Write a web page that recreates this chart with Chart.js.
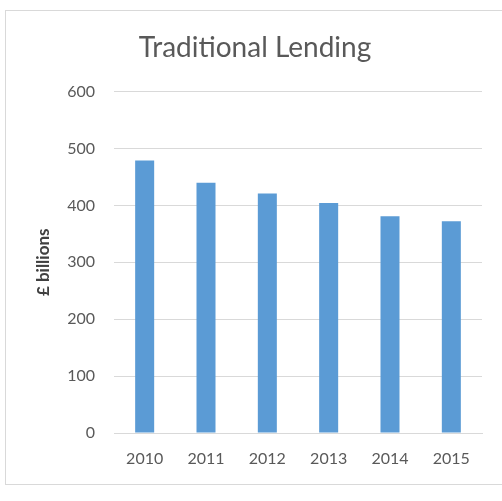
<!DOCTYPE html>
<html>
<head>
<meta charset="utf-8">
<script src="https://cdn.jsdelivr.net/npm/chart.js@4"></script>
<style>
  html, body { margin: 0; padding: 0; background: #fff; }
  #wrap { position: relative; width: 502px; height: 501px; overflow: hidden; }
  #frame { position: absolute; left: 5px; top: 10px; width: 510px; height: 473px;
           border: 1px solid #d9d9d9; border-right: none; }
  canvas { position: absolute; left: 0; top: 0; }
</style>
</head>
<body>
<div id="wrap">
  <div id="frame"></div>
  <canvas id="canvas" width="502" height="501"></canvas>
</div>
<script>
const years = ['2010', '2011', '2012', '2013', '2014', '2015'];
const lending = [479, 440, 421, 404, 381, 372];
const yTicks = [0, 100, 200, 300, 400, 500, 600];

const textColor = '#595959';
const fontFamily = 'Lato, "Open Sans", sans-serif';

const ctx = document.getElementById('canvas').getContext('2d');

new Chart(ctx, {
    type: 'bar',
    data: {
        labels: years,
        datasets: [{
            label: '£ billions',
            data: lending,
            backgroundColor: '#5b9bd5',
            borderWidth: 0,
            barPercentage: 0.31,
            categoryPercentage: 1
        }]
    },
    options: {
        responsive: false,
        animation: false,
        layout: { padding: { left: 28, right: 20, top: 0, bottom: 0 } },
        plugins: {
            legend: { display: false },
            tooltip: { enabled: false },
            title: {
                display: true,
                text: 'Traditional Lending',
                color: textColor,
                font: { family: fontFamily, size: 28, weight: 'normal' },
                padding: { top: 31, bottom: 27 }
            }
        },
        scales: {
            x: {
                grid: { display: false },
                border: { color: '#d9d9d9' },
                ticks: { color: textColor, font: { family: fontFamily, size: 16 }, padding: 8 },
                afterFit: (scale) => { scale.height = 68; }
            },
            y: {
                min: 0,
                max: 600,
                afterBuildTicks: (scale) => { scale.ticks = yTicks.map(v => ({ value: v })); },
                grid: { color: '#d9d9d9', drawTicks: false },
                border: { display: false },
                ticks: { color: textColor, font: { family: fontFamily, size: 16 }, padding: 19 },
                title: {
                    display: true,
                    text: '£ billions',
                    color: '#404040',
                    font: { family: fontFamily, size: 17, weight: 'bold' },
                    padding: { top: 5, bottom: 0 }
                },
                afterFit: (scale) => { scale.width = 86; }
            }
        }
    }
});
</script>
</body>
</html>
